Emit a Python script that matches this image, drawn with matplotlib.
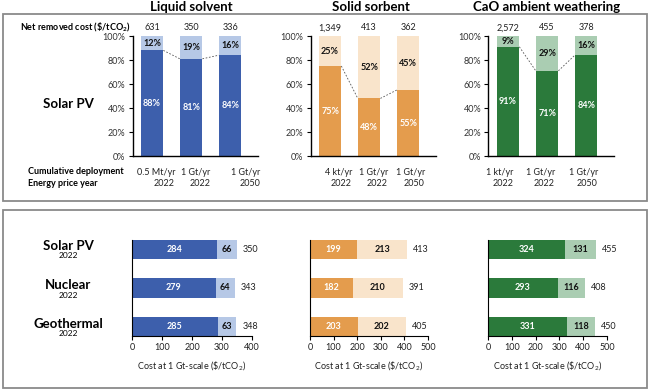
import matplotlib
matplotlib.use('Agg')
import matplotlib.pyplot as plt
from matplotlib.patches import Rectangle
from matplotlib.ticker import PercentFormatter

plt.rcParams['font.family'] = ['Lato', 'DejaVu Sans']
plt.rcParams['mathtext.fontset'] = 'custom'
plt.rcParams['mathtext.rm'] = 'Lato'
plt.rcParams['mathtext.bf'] = 'Lato:bold'

# data
techs = ['Liquid solvent', 'Solid sorbent', 'CaO ambient weathering']
net_cost = [[631, 350, 336], [1349, 413, 362], [2572, 455, 378]]
dark_share = [[88, 81, 84], [75, 48, 55], [91, 71, 84]]
light_share = [[12, 19, 16], [25, 52, 45], [9, 29, 16]]
deployment = [['0.5 Mt/yr', '1 Gt/yr', '1 Gt/yr'],
              ['4 kt/yr', '1 Gt/yr', '1 Gt/yr'],
              ['1 kt/yr', '1 Gt/yr', '1 Gt/yr']]
price_year = ['2022', '2022', '2050']

sources = ['Solar PV', 'Nuclear', 'Geothermal']
source_year = ['2022', '2022', '2022']
gt_dark = [[284, 279, 285], [199, 182, 203], [324, 293, 331]]
gt_light = [[66, 64, 63], [213, 210, 202], [131, 116, 118]]
gt_total = [[350, 343, 348], [413, 391, 405], [455, 408, 450]]
gt_xmax = [400, 500, 500]

dark_colors = ['#3D5FAC', '#E49C4D', '#2B7A3B']
light_colors = ['#B6C8E6', '#F9E4CB', '#AACDB2']

W, H = 650, 390
fig = plt.figure(figsize=(6.5, 3.9), dpi=100)


def px_axes(x0, y0, x1, y1):
    return fig.add_axes([x0 / W, 1 - y1 / H, (x1 - x0) / W, (y1 - y0) / H])


def fx(x):
    return x / W


def fy(y):
    return 1 - y / H


# boxes
for (y0, y1) in [(14, 201), (210, 388)]:
    fig.patches.append(Rectangle((fx(3), fy(y1)), fx(644), (y1 - y0) / H,
                                 transform=fig.transFigure, fill=False,
                                 edgecolor='#8a8a8a', lw=1.3))

top_left = [132.5, 310.5, 488.5]
title_x = [191, 371, 547]
label_right = [[0.59, 1.49, 2.77], [0.56, 1.48, 2.43], [0.13, 1.2, 2.3]]
bw = 0.58
x = [0, 1, 2]

for p in range(3):
    ax = px_axes(top_left[p], 36, top_left[p] + 125, 156)
    ax.bar(x, dark_share[p], bw, color=dark_colors[p])
    ax.bar(x, light_share[p], bw, bottom=dark_share[p], color=light_colors[p])
    ax.set_xlim(-0.5, 2.7)
    ax.set_ylim(0, 100)
    ax.set_yticks(range(0, 101, 20))
    ax.yaxis.set_major_formatter(PercentFormatter(decimals=0))
    ax.set_xticks([])
    ax.tick_params(axis='y', labelsize=6.5, length=3, width=0.8, pad=2,
                   labelcolor='#333333')
    for s in ['top', 'right']:
        ax.spines[s].set_visible(False)
    ax.spines['left'].set_linewidth(1.0)
    ax.spines['bottom'].set_linewidth(1.0)
    for i in x:
        d, l = dark_share[p][i], light_share[p][i]
        ax.text(i, d / 2, f'{d}%', ha='center', va='center', color='white',
                fontsize=6.5, fontweight='bold')
        ax.text(i, d + l / 2, f'{l}%', ha='center', va='center',
                color='#111111', fontsize=6.5, fontweight='bold')
        ax.text(i, 103, f'{net_cost[p][i]:,}', ha='center', va='bottom',
                fontsize=6.5, color='#222222')
        ax.text(label_right[p][i], -14, deployment[p][i], ha='right',
                va='center', fontsize=6.5, color='#222222')
        ax.text(label_right[p][i], -23, price_year[i], ha='right',
                va='center', fontsize=6.5, color='#222222')
    for i in range(2):
        ax.plot([i + bw / 2, i + 1 - bw / 2],
                [dark_share[p][i], dark_share[p][i + 1]],
                color='#555555', lw=0.6, ls=(0, (2, 2)))
    fig.text(fx(title_x[p]), fy(7), techs[p], ha='center', va='center',
             fontsize=9.5, fontweight='bold')

fig.text(fx(131), fy(27), r'Net removed cost (\$/tCO$_\mathbf{2}$)',
         ha='right', va='center', fontsize=6.5, fontweight='bold')
fig.text(fx(68), fy(104), 'Solar PV', ha='center', va='center',
         fontsize=9.5, fontweight='bold')
fig.text(fx(28), fy(172), 'Cumulative deployment', ha='left', va='center',
         fontsize=6.5, fontweight='bold')
fig.text(fx(28), fy(183), 'Energy price year', ha='left', va='center',
         fontsize=6.5, fontweight='bold')

# bottom panels
bot_left = [132, 310, 488]
bot_width = [120, 118, 119]
y = [0, 1, 2]
bh = 0.5
for p in range(3):
    ax = px_axes(bot_left[p], 240, bot_left[p] + bot_width[p], 336)
    ax.barh(y, gt_dark[p], bh, color=dark_colors[p])
    ax.barh(y, gt_light[p], bh, left=gt_dark[p], color=light_colors[p])
    ax.set_ylim(2.25, -0.25)
    ax.set_xlim(0, gt_xmax[p])
    ax.set_xticks(range(0, gt_xmax[p] + 1, 100))
    ax.set_yticks([])
    ax.tick_params(axis='x', labelsize=6.5, length=3, width=0.8, pad=2,
                   labelcolor='#222222')
    for s in ['top', 'right']:
        ax.spines[s].set_visible(False)
    ax.set_xlabel(r'Cost at 1 Gt-scale (\$/tCO$_2$)', fontsize=6.5,
                  color='#222222', labelpad=5)
    for i in y:
        d, l = gt_dark[p][i], gt_light[p][i]
        ax.text(d / 2, i, str(d), ha='center', va='center', color='white',
                fontsize=6.5, fontweight='bold')
        ax.text(d + l / 2, i, str(l), ha='center', va='center',
                color='#111111', fontsize=6.5, fontweight='bold')
        ax.text(d + l + gt_xmax[p] * 0.05, i, str(gt_total[p][i]),
                ha='left', va='center', fontsize=6.5, color='#222222')

row_y = [249, 288, 327]
for i in range(3):
    fig.text(fx(68), fy(row_y[i] - 3), sources[i], ha='center', va='center',
             fontsize=9.5, fontweight='bold')
    fig.text(fx(68), fy(row_y[i] + 7), source_year[i], ha='center',
             va='center', fontsize=6)

fig.savefig('out.png', dpi=100)
